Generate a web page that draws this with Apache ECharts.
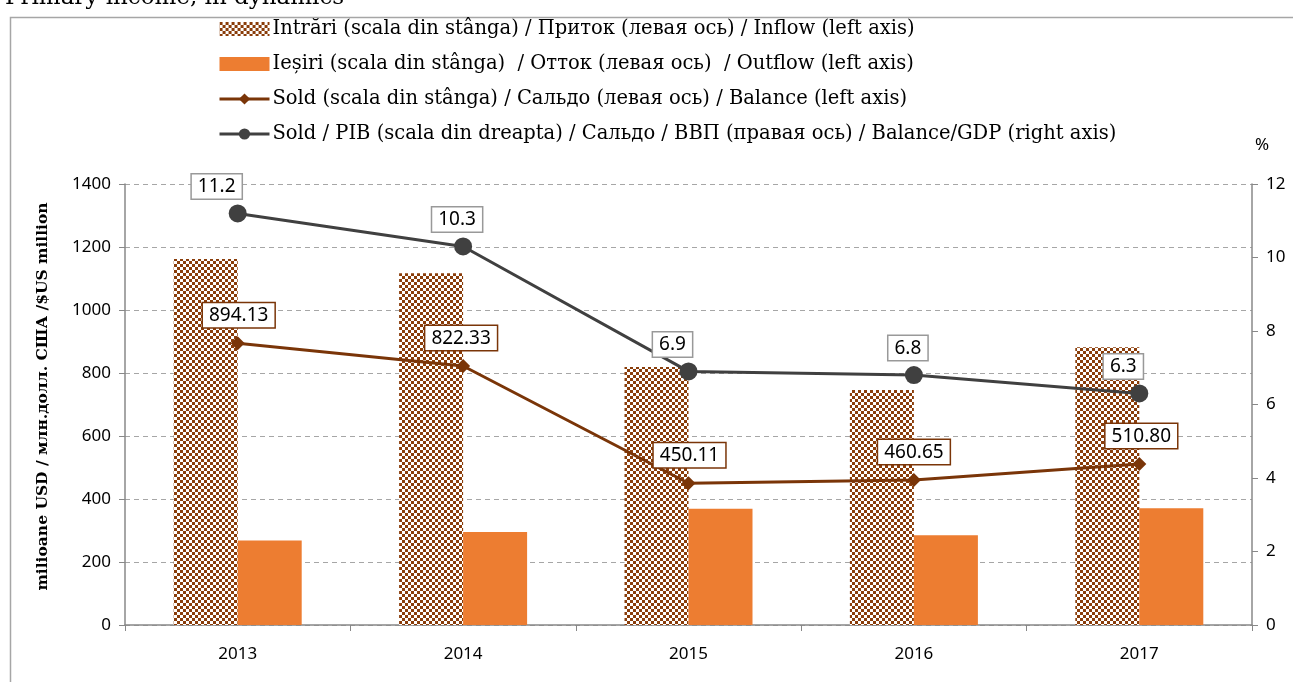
<!DOCTYPE html>
<html>
<head>
<meta charset="utf-8">
<script src="https://cdn.jsdelivr.net/npm/echarts@6/dist/echarts.min.js"></script>
<style>
  html, body { margin: 0; padding: 0; background: #fff; }
  #main { width: 1293px; height: 682px; }
</style>
</head>
<body>
<div id="main"></div>
<script>
// data
var years = ['2013', '2014', '2015', '2016', '2017'];
var inflow = [1162, 1117, 819, 746, 882];
var outflow = [268, 295, 369, 285, 371];
var balance = [894.13, 822.33, 450.11, 460.65, 510.80];
var balanceGdp = [11.2, 10.3, 6.9, 6.8, 6.3];

var brown = '#7a3508';
var orange = '#ed7d31';
var dark = '#404040';

// checker pattern for inflow bars
function checker() {
	var c = document.createElement('canvas');
	c.width = 6; c.height = 6;
	var ctx = c.getContext('2d');
	ctx.fillStyle = '#ffffff';
	ctx.fillRect(0, 0, 6, 6);
	ctx.fillStyle = '#8a3d0a';
	ctx.fillRect(0, 0, 3, 3);
	ctx.fillRect(3, 3, 3, 3);
	return c;
}
var pattern = { image: checker(), repeat: 'repeat' };

var myChart = echarts.init(document.getElementById('main'));

// small x shifts of the boxes, as in the original
var gdpDx = [-21, -6, -16, -6, -16];
var balDx = [1, -2, 1, 0, 2];

var nInflow = 'Intrări (scala din stânga) / Приток (левая ось) / Inflow (left axis)';
var nOutflow = 'Ieșiri (scala din stânga)  / Отток (левая ось)  / Outflow (left axis)';
var nBalance = 'Sold (scala din stânga) / Сальдо (левая ось) / Balance (left axis)';
var nGdp = 'Sold / PIB (scala din dreapta) / Сальдо / ВВП (правая ось) / Balance/GDP (right axis)';

var tickLabel = { fontFamily: 'Noto Sans', fontSize: 17, color: '#000', margin: 14 };

var option = {
	backgroundColor: '#fff',
	animation: false,
	title: {
		text: 'Primary income, in dynamics',
		left: 0,
		top: -18,
		textStyle: { fontFamily: 'DejaVu Serif', fontWeight: 'normal', fontSize: 23, color: '#000' }
	},
	graphic: [{
		type: 'rect',
		shape: { x: 10.5, y: 17.5, width: 1300, height: 700 },
		style: { fill: 'none', stroke: '#a6a6a6', lineWidth: 1.5 },
		silent: true
	}],
	legend: {
		orient: 'vertical',
		left: 213,
		top: 14,
		itemWidth: 50,
		itemHeight: 14,
		itemGap: 15,
		textStyle: { fontFamily: 'DejaVu Serif', fontSize: 19.5, color: '#000', padding: [0, 0, 0, -2] },
		data: [
			{ name: nInflow, icon: 'rect' },
			{ name: nOutflow, icon: 'rect' },
			{ name: nBalance, lineStyle: { width: 3 } },
			{ name: nGdp, lineStyle: { width: 3 } }
		]
	},
	grid: { left: 125, right: 41, top: 184, bottom: 57 },
	xAxis: {
		type: 'category',
		data: years,
		axisLine: { lineStyle: { color: '#888', width: 1.5 } },
		axisTick: { show: true, lineStyle: { color: '#888' }, length: 6 },
		axisLabel: { fontFamily: 'Noto Sans', fontSize: 17, color: '#000', margin: 21 }
	},
	yAxis: [{
		type: 'value',
		min: 0, max: 1400, interval: 200,
		name: 'milioane USD / млн.долл. США /$US million',
		nameLocation: 'middle',
		nameRotate: 90,
		nameGap: 74,
		nameTextStyle: { fontFamily: 'DejaVu Serif', fontWeight: 'bold', fontSize: 15.5, color: '#000', padding: [0, 0, 0, 16] },
		axisLine: { show: true, lineStyle: { color: '#888', width: 1.5 } },
		axisTick: { show: true, lineStyle: { color: '#888' }, length: 6 },
		axisLabel: Object.assign({ formatter: function(v) { return String(v); } }, tickLabel),
		splitLine: { lineStyle: { color: '#a6a6a6', type: [5, 4], width: 1.2 } }
	}, {
		type: 'value',
		min: 0, max: 12, interval: 2,
		name: '%',
		nameLocation: 'end',
		nameGap: 30,
		nameTextStyle: { fontFamily: 'Noto Sans', fontSize: 17, color: '#000', padding: [0, 0, 0, 20] },
		axisLine: { show: true, lineStyle: { color: '#888', width: 1.5 } },
		axisTick: { show: true, lineStyle: { color: '#888' }, length: 6 },
		axisLabel: tickLabel,
		splitLine: { show: false }
	}],
	series: [{
		name: nInflow,
		type: 'bar',
		data: inflow,
		barWidth: 64,
		barGap: '0%',
		itemStyle: { color: pattern }
	}, {
		name: nOutflow,
		type: 'bar',
		data: outflow,
		barWidth: 64,
		barGap: '0%',
		itemStyle: { color: orange }
	}, {
		name: nBalance,
		type: 'line',
		data: balance.map(function(v, i) {
			return { value: v, label: { offset: [balDx[i], 0] } };
		}),
		symbol: 'diamond',
		symbolSize: 14,
		lineStyle: { color: brown, width: 3 },
		itemStyle: { color: brown },
		z: 5,
		label: {
			show: true,
			position: 'top',
			distance: 9,
			formatter: function(p) { return p.value.toFixed(2); },
			fontFamily: 'Noto Sans', fontSize: 19, color: '#000',
			backgroundColor: '#fff',
			borderColor: brown, borderWidth: 1.5,
			padding: [3, 6, 2, 6]
		}
	}, {
		name: nGdp,
		type: 'line',
		yAxisIndex: 1,
		data: balanceGdp.map(function(v, i) {
			return { value: v, label: { offset: [gdpDx[i], 0] } };
		}),
		symbol: 'circle',
		symbolSize: 18,
		lineStyle: { color: dark, width: 3 },
		itemStyle: { color: dark },
		z: 6,
		label: {
			show: true,
			position: 'top',
			distance: 6,
			formatter: function(p) { return p.value.toFixed(1); },
			fontFamily: 'Noto Sans', fontSize: 19, color: '#000',
			backgroundColor: '#fff',
			borderColor: '#999', borderWidth: 1.5,
			padding: [3, 6, 2, 6]
		}
	}]
};

myChart.setOption(option);
</script>
</body>
</html>
